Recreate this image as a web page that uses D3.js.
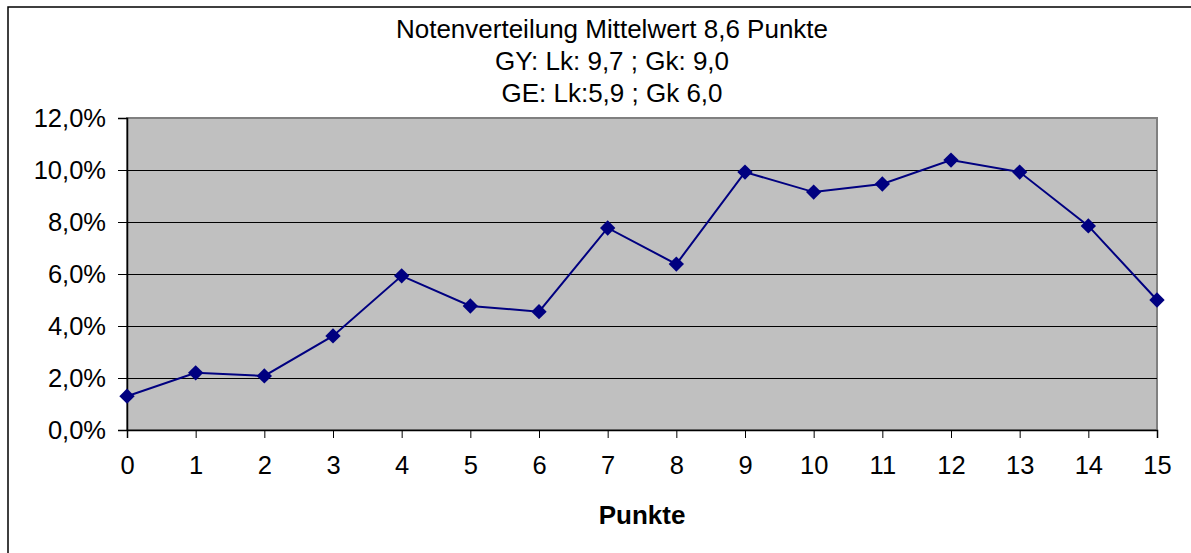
<!DOCTYPE html>
<html>
<head>
<meta charset="utf-8">
<script src="https://cdn.jsdelivr.net/npm/d3@7"></script>
<style>
  body { margin: 0; background: #fff; }
  svg { display: block; font-family: "Liberation Sans", Arial, sans-serif; }
</style>
</head>
<body>
<div id="chart"></div>
<script>
const width = 1191;
const height = 553;

const titleLines = ['Notenverteilung Mittelwert 8,6 Punkte', 'GY: Lk: 9,7 ; Gk: 9,0', 'GE: Lk:5,9 ; Gk 6,0'];
const punkte = [0, 1, 2, 3, 4, 5, 6, 7, 8, 9, 10, 11, 12, 13, 14, 15];
const anteil = [1.3, 2.2, 2.08, 3.62, 5.93, 4.77, 4.55, 7.77, 6.38, 9.92, 9.15, 9.46, 10.38, 9.92, 7.85, 5.0];
const yTicks = [0, 2, 4, 6, 8, 10, 12];

const margin = {top: 118, right: 34, bottom: 123, left: 127};
const w = width - margin.left - margin.right;
const h = height - margin.top - margin.bottom;
const tickFont = '25.5px';
const titleFont = '26px';

const svg = d3.select('#chart').append('svg')
    .attr('width', width)
    .attr('height', height);

// outer chart frame (runs off the right and bottom edge)
svg.append('rect')
    .attr('x', 8).attr('y', 7)
    .attr('width', 1300).attr('height', 700)
    .attr('fill', 'none')
    .attr('stroke', '#000')
    .attr('stroke-width', 1.5);

const x = d3.scaleLinear().domain([0, 15]).range([0, w]);
const y = d3.scaleLinear().domain([0, 12]).range([h, 0]);

const g = svg.append('g').attr('transform', `translate(${margin.left},${margin.top})`);

g.append('rect')
    .attr('width', w).attr('height', h)
    .attr('fill', '#c0c0c0')
    .attr('stroke', '#808080')
    .attr('stroke-width', 2);

g.append('g').selectAll('line')
  .data(yTicks.slice(1, -1))
  .join('line')
    .attr('x1', 0).attr('x2', w)
    .attr('y1', d => y(d) + 0.5).attr('y2', d => y(d) + 0.5)
    .attr('stroke', '#000')
    .attr('stroke-width', 1);

const fmt = d => d3.format('.1f')(d).replace('.', ',') + '%';

const yAxis = g.append('g')
    .call(d3.axisLeft(y).tickValues(yTicks).tickFormat(fmt).tickSize(9).tickPadding(12));
const xAxis = g.append('g')
    .attr('transform', `translate(0,${h})`)
    .call(d3.axisBottom(x).tickValues(punkte).tickFormat(d3.format('d')).tickSize(8).tickPadding(18));

[yAxis, xAxis].forEach(a => {
  a.select('.domain').attr('stroke', '#000').attr('stroke-width', 1.5);
  a.selectAll('.tick line').attr('stroke', '#000');
  a.selectAll('text')
      .attr('fill', '#000')
      .style('font-size', tickFont)
      .style('font-family', '"Liberation Sans", Arial, sans-serif');
});

const line = d3.line()
    .x((d, i) => x(punkte[i]))
    .y(d => y(d));

g.append('path')
    .datum(anteil)
    .attr('fill', 'none')
    .attr('stroke', '#000080')
    .attr('stroke-width', 2)
    .attr('d', line);

g.selectAll('.marker')
  .data(anteil)
  .join('path')
    .attr('class', 'marker')
    .attr('d', d3.symbol(d3.symbolDiamond2, 150))
    .attr('transform', (d, i) => `translate(${x(punkte[i])},${y(d)})`)
    .attr('fill', '#000080');

svg.append('g').selectAll('text')
  .data(titleLines)
  .join('text')
    .attr('x', 612)
    .attr('y', (d, i) => 38 + i * 32)
    .attr('text-anchor', 'middle')
    .style('font-size', titleFont)
    .text(d => d);

svg.append('text')
    .attr('x', margin.left + x(7.5))
    .attr('y', 524)
    .attr('text-anchor', 'middle')
    .style('font-size', titleFont)
    .style('font-weight', 'bold')
    .text('Punkte');
</script>
</body>
</html>
